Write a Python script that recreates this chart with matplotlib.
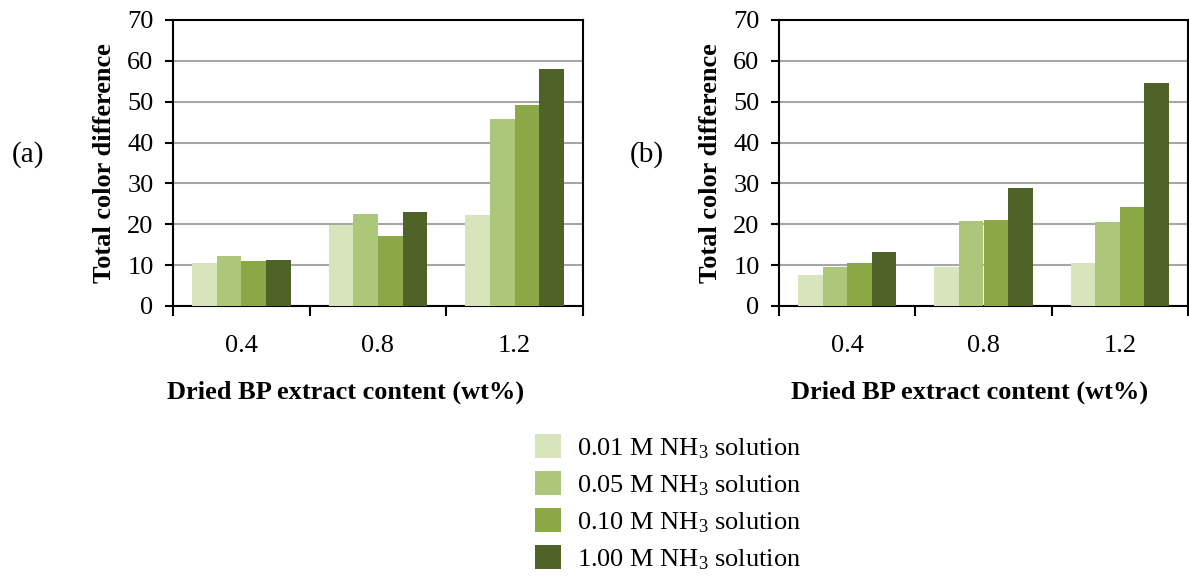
import matplotlib
matplotlib.use("Agg")
import matplotlib.pyplot as plt
import numpy as np
from matplotlib.patches import Patch

plt.rcParams['font.family'] = ['Liberation Serif', 'DejaVu Serif']
plt.rcParams['mathtext.fontset'] = 'custom'
plt.rcParams['mathtext.rm'] = 'Liberation Serif'
plt.rcParams['mathtext.it'] = 'Liberation Serif:italic'

categories = ['0.4', '0.8', '1.2']
series_labels = [r'0.01 M NH$_3$ solution', r'0.05 M NH$_3$ solution',
                 r'0.10 M NH$_3$ solution', r'1.00 M NH$_3$ solution']
colors = ['#d8e4bc', '#adc77a', '#8aa846', '#4f6228']

# panel (a)
a_001 = [10.6, 19.9, 22.2]
a_005 = [12.3, 22.6, 45.8]
a_010 = [10.9, 17.2, 49.2]
a_100 = [11.3, 23.0, 58.1]

# panel (b)
b_001 = [7.7, 9.5, 10.6]
b_005 = [9.6, 20.7, 20.6]
b_010 = [10.6, 21.1, 24.3]
b_100 = [13.2, 28.9, 54.5]

yticks = [0, 10, 20, 30, 40, 50, 60, 70]

FS = 19

fig = plt.figure(figsize=(11.89, 5.77), dpi=100)
W, H = 1189, 577
ax_a = fig.add_axes([173 / W, 1 - 306 / H, 410 / W, 286 / H])
ax_b = fig.add_axes([779 / W, 1 - 306 / H, 409 / W, 286 / H])

def draw(ax, data, tag, tagx, xlab_x):
    x = np.arange(len(categories))
    bw = 0.18
    for i, vals in enumerate(data):
        ax.bar(x + (i - 1.5) * bw, vals, width=bw, color=colors[i],
               edgecolor='none', zorder=3)
    ax.set_xlim(-0.5, len(categories) - 0.5)
    ax.set_ylim(0, 70)
    ax.set_yticks(yticks)
    ax.set_yticklabels([str(t) for t in yticks], fontsize=FS)
    ax.set_xticks(x)
    ax.set_xticklabels(categories, fontsize=FS)
    ax.set_xticks(np.arange(-0.5, len(categories)), minor=True)
    ax.tick_params(axis='x', which='major', length=0, pad=21)
    ax.tick_params(axis='x', which='minor', length=7, width=1.5, direction='out')
    ax.tick_params(axis='y', which='major', length=6, width=1.5, direction='out', pad=8)
    for s in ax.spines.values():
        s.set_linewidth(1.5)
        s.set_color('black')
    ax.grid(axis='y', color='#a6a6a6', linewidth=1.5, zorder=0)
    ax.set_axisbelow(True)
    ax.set_ylabel('Total color difference', fontsize=FS, fontweight='bold', labelpad=8)
    ax.set_xlabel('Dried BP extract content (wt%)', fontsize=FS, fontweight='bold')
    ax.xaxis.set_label_coords(xlab_x, -0.262)
    fig.text(tagx / W, 1 - 155 / H, tag, fontsize=21, ha='left', va='center')

draw(ax_a, [a_001, a_005, a_010, a_100], '(a)', 12, 0.422)
draw(ax_b, [b_001, b_005, b_010, b_100], '(b)', 630, 0.467)

handles = [Patch(facecolor=c, edgecolor='none') for c in colors]
fig.legend(handles, series_labels, loc='center', bbox_to_anchor=(668 / W, 1 - 503 / H),
           frameon=False, fontsize=FS, handlelength=1.0, handleheight=1.0,
           labelspacing=0.4, handletextpad=0.6)

fig.savefig('out.png', dpi=100)
